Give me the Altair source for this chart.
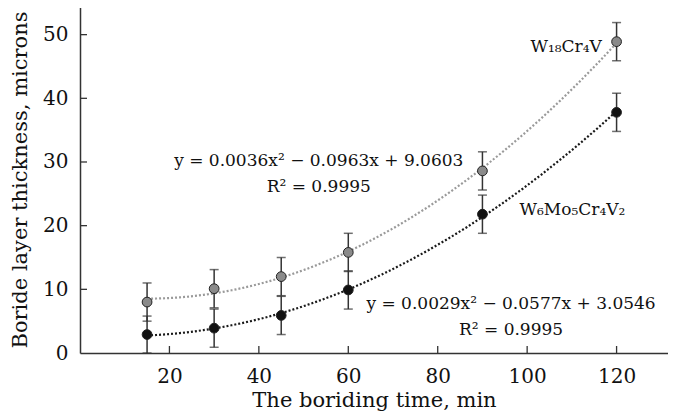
import altair as alt
import pandas as pd

times = [15, 30, 45, 60, 90, 120]
w18_vals = [8.0, 10.1, 12.0, 15.8, 28.6, 48.9]
w6_vals = [2.9, 3.9, 5.9, 9.9, 21.8, 37.8]
w18_err = [3.0, 3.0, 3.0, 3.0, 3.0, 3.0]
w6_err = [2.9, 3.0, 3.0, 3.0, 3.0, 3.0]
series_names = ["W18Cr4V", "W6Mo5Cr4V2"]
x_ticks = [20, 40, 60, 80, 100, 120]
y_ticks = [10, 20, 30, 40, 50]

labels = ["W\u2081\u2088Cr\u2084V", "W\u2086Mo\u2085Cr\u2084V\u2082"]
label_x = [116.7, 98.3]
label_y = [48.0, 22.4]
label_align = ["right", "left"]

eq_texts = ["y = 0.0036x\u00b2 \u2212 0.0963x + 9.0603\nR\u00b2 = 0.9995",
            "y = 0.0029x\u00b2 \u2212 0.0577x + 3.0546\nR\u00b2 = 0.9995"]
eq_x = [53.4, 96.4]
eq_y = [31.4, 9.0]

FONT = "DejaVu Serif"
W, H = 588, 347
XDOM = [0, 131.5]
YDOM = [0, 54.5]

rows = []
for s, vals, errs in [(series_names[0], w18_vals, w18_err), (series_names[1], w6_vals, w6_err)]:
    for t, v, e in zip(times, vals, errs):
        rows.append({"series": s, "t": t, "v": v, "lo": max(v - e, 0), "hi": v + e})
df = pd.DataFrame(rows)

xs = alt.Scale(domain=XDOM, nice=False, zero=False)
ys = alt.Scale(domain=YDOM, nice=False)
color_scale = alt.Scale(domain=series_names, range=["#8a8a8a", "#111111"])
line_scale = alt.Scale(domain=series_names, range=["#9a9a9a", "#1a1a1a"])

base = alt.Chart(df)

curves = base.transform_regression(
    "t", "v", method="poly", order=2, groupby=["series"], extent=[15, 120]
).mark_line(strokeDash=[2, 2], strokeWidth=2.2).encode(
    x=alt.X("t:Q", scale=xs, axis=alt.Axis(values=x_ticks, title="The boriding time, min",
                                           ticks=False, labelPadding=13, titlePadding=3,
                                           grid=False)),
    y=alt.Y("v:Q", scale=ys, axis=alt.Axis(values=[0] + y_ticks,
                                           title="Boride layer thickness, microns",
                                           ticks=False, labelPadding=12, titlePadding=12,
                                           grid=False)),
    color=alt.Color("series:N", scale=line_scale, legend=None),
)

bars = base.mark_rule(color="#333333", strokeWidth=1.5).encode(
    x=alt.X("t:Q", scale=xs), y=alt.Y("lo:Q", scale=ys), y2="hi:Q"
)
cap_lo = base.mark_tick(orient="horizontal", size=9, thickness=1.5, color="#333333").encode(
    x=alt.X("t:Q", scale=xs), y=alt.Y("lo:Q", scale=ys)
)
cap_hi = base.mark_tick(orient="horizontal", size=9, thickness=1.5, color="#333333").encode(
    x=alt.X("t:Q", scale=xs), y=alt.Y("hi:Q", scale=ys)
)
points = base.mark_point(filled=True, size=95, opacity=1, stroke="#222222", strokeWidth=1).encode(
    x=alt.X("t:Q", scale=xs), y=alt.Y("v:Q", scale=ys),
    fill=alt.Fill("series:N", scale=color_scale, legend=None),
)

xt = alt.Chart(pd.DataFrame({"t": x_ticks})).mark_rule(color="#333333", strokeWidth=1.3).encode(
    x=alt.X("t:Q", scale=xs), y=alt.value(H), y2=alt.value(H - 7)
)
yt = alt.Chart(pd.DataFrame({"v": y_ticks})).mark_rule(color="#333333", strokeWidth=1.3).encode(
    y=alt.Y("v:Q", scale=ys), x=alt.value(0), x2=alt.value(7)
)
top_line = alt.Chart(pd.DataFrame({"a": [0]})).mark_rule(color="#333333", strokeWidth=1.5).encode(
    x=alt.value(0), x2=alt.value(W), y=alt.value(0)
)

lab_df = pd.DataFrame({"text": labels, "x": label_x, "y": label_y, "align": label_align})
lab_r = alt.Chart(lab_df[lab_df["align"] == "right"]).mark_text(
    font=FONT, fontSize=17, align="right", baseline="middle", color="#111111"
).encode(x=alt.X("x:Q", scale=xs), y=alt.Y("y:Q", scale=ys), text="text:N")
lab_l = alt.Chart(lab_df[lab_df["align"] == "left"]).mark_text(
    font=FONT, fontSize=17, align="left", baseline="middle", color="#111111"
).encode(x=alt.X("x:Q", scale=xs), y=alt.Y("y:Q", scale=ys), text="text:N")

eq_df = pd.DataFrame({"text": eq_texts, "x": eq_x, "y": eq_y})
eqs = alt.Chart(eq_df).mark_text(
    font=FONT, fontSize=17, align="center", baseline="top", lineBreak="\n",
    lineHeight=26, color="#111111"
).encode(x=alt.X("x:Q", scale=xs), y=alt.Y("y:Q", scale=ys), text="text:N")

chart = alt.layer(curves, bars, cap_lo, cap_hi, points, xt, yt, top_line, lab_r, lab_l, eqs).properties(
    width=W, height=H,
    background="white",
    autosize=alt.AutoSizeParams(type="none"),
    padding={"left": 72, "top": -2, "right": 0, "bottom": 59},
).configure_view(stroke=None).configure_axis(
    labelFont=FONT, titleFont=FONT, labelFontSize=20, titleFontSize=21,
    labelColor="#111111", titleColor="#111111", titleFontWeight="normal",
    domainColor="#333333", domainWidth=1.5,
)

chart.save("out.html", embed_options={"renderer": "svg", "actions": False})
